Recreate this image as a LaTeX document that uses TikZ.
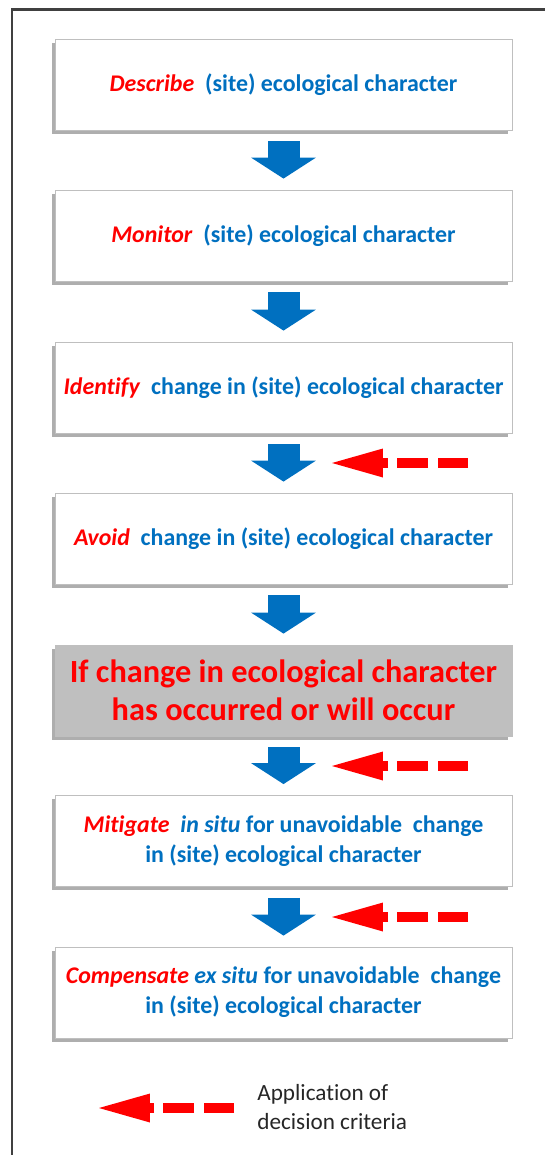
\documentclass[tikz,border=0pt]{standalone}
\usepackage{fontspec}
\setmainfont{Carlito}[Ligatures=NoCommon]
\usepackage{xcolor}
\usetikzlibrary{arrows.meta,shadows}

\definecolor{stepblue}{RGB}{0,112,192}
\definecolor{stepred}{RGB}{255,0,0}
\definecolor{occurgray}{RGB}{191,191,191}

\newcommand{\act}[1]{\textcolor{stepred}{\textit{#1}}}

\begin{document}
\begin{tikzpicture}[x=0.02cm,y=-0.02cm,
  stage/.style={draw=black!25,line width=0.5pt,fill=white,minimum width=9.14cm,
    minimum height=1.82cm,inner sep=0pt,align=center,text=stepblue,
    font=\fontsize{13.6}{17}\selectfont\bfseries,
    drop shadow={shadow xshift=-2pt,shadow yshift=-2pt,opacity=0.45,fill=black!70}},
  flow/.style={draw=stepblue,line width=0.64cm,
    -{Triangle[width=1.3cm,length=0.42cm,line width=0pt]},
    shorten <=0.22cm,shorten >=0.22cm},
  criteria/.style={draw=stepred,line width=0.2cm,
    -{Triangle[width=0.58cm,length=1.02cm,line width=0pt]},
    dash pattern=on 0.6cm off 0.2cm on 0.62cm off 0.18cm on 3cm}]
  \useasboundingbox (0,0) rectangle (545,1155);

  % Frame
  \draw[line width=0.05cm,black!75] (12,1155) -- (12,9.5) -- (545,9.5);

  % Stages
  \node[stage] (describe) at (283.5,84.5) {\act{Describe}\ \ (site) ecological character};
  \node[stage] (monitor) at (283.5,235.5) {\act{Monitor}\ \ (site) ecological character};
  \node[stage] (identify) at (283.5,387.5) {\act{Identify}\ \ change in (site) ecological character};
  \node[stage] (avoid) at (283.5,538.5) {\act{Avoid}\ \ change in (site) ecological character};
  \node[stage,fill=occurgray,draw=occurgray,text=stepred,
    font=\fontsize{18.4}{21.6}\selectfont\bfseries] (occur) at (283.5,690.5)
    {If change in ecological character\\has occurred or will occur};
  \node[stage] (mitigate) at (283.5,841) {\act{Mitigate}\ \ \textit{in situ} for unavoidable\ \ change\\in (site) ecological character};
  \node[stage] (compensate) at (283.5,992.5) {\act{Compensate} \textit{ex situ} for unavoidable\ \ change\\in (site) ecological character};

  % Flow arrows
  \draw[flow] (describe) -- (monitor);
  \draw[flow] (monitor) -- (identify);
  \draw[flow] (identify) -- (avoid);
  \draw[flow] (avoid) -- (occur);
  \draw[flow] (occur) -- (mitigate);
  \draw[flow] (mitigate) -- (compensate);

  % Decision criteria
  \coordinate (crit1) at (468,463);
  \coordinate (gap1) at (332,463);
  \coordinate (crit2) at (468,766);
  \coordinate (gap2) at (332,766);
  \coordinate (crit3) at (468,917);
  \coordinate (gap3) at (332,917);
  \draw[criteria] (crit1) -- (gap1);
  \draw[criteria] (crit2) -- (gap2);
  \draw[criteria] (crit3) -- (gap3);

  % Legend
  \coordinate (keyend) at (234,1108);
  \coordinate (keytip) at (99,1108);
  \draw[criteria] (keyend) -- (keytip);
  \node[anchor=west,align=left,inner sep=0pt,text=black!85,
    font=\fontsize{13.2}{16}\selectfont] (keytext) at (257,1107)
    {Application of\\decision criteria};
\end{tikzpicture}
\end{document}
